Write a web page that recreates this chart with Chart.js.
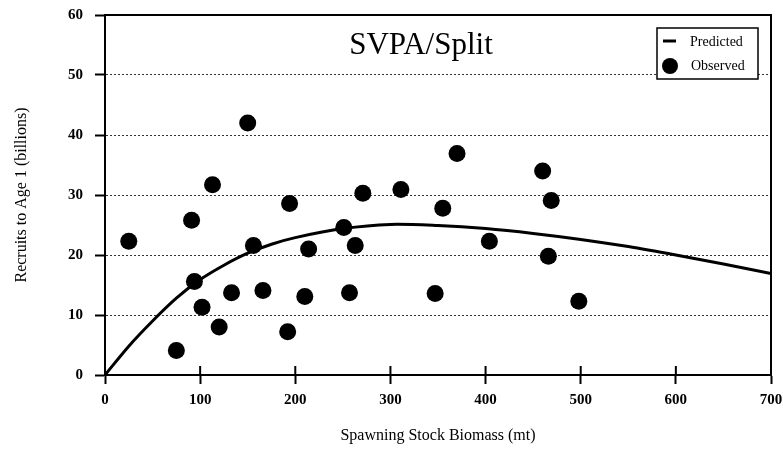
<!DOCTYPE html>
<html>
<head>
<meta charset="utf-8">
<script src="https://cdn.jsdelivr.net/npm/chart.js@4/dist/chart.umd.min.js"></script>
<style>
html, body { margin: 0; padding: 0; background: #fff; }
</style>
</head>
<body>
<canvas id="chart" width="783" height="450"></canvas>
<script>
// observed stock / recruit pairs
var biomass = [25, 75, 91, 94, 102, 113, 120, 133, 150, 156, 166, 192, 194, 210, 214, 251, 257, 263, 271, 311, 347, 355, 370, 404, 460, 466, 469, 498];
var recruits = [22.3, 4.1, 25.8, 15.6, 11.3, 31.7, 8.0, 13.7, 42.0, 21.6, 14.1, 7.2, 28.6, 13.1, 21.0, 24.6, 13.7, 21.6, 30.3, 30.9, 13.6, 27.8, 36.9, 22.3, 34.0, 19.8, 29.1, 12.3];

// predicted curve
var curveX = [0, 25, 50, 75, 100, 125, 150, 175, 200, 250, 300, 350, 400, 450, 500, 550, 600, 650, 700];
var curveY = [0, 4.8, 9.0, 12.8, 15.9, 18.3, 20.3, 21.8, 22.9, 24.4, 25.1, 24.9, 24.4, 23.6, 22.6, 21.4, 20.0, 18.5, 16.9];

var xTicks = [0, 100, 200, 300, 400, 500, 600, 700];
var yTicks = [0, 10, 20, 30, 40, 50, 60];

var chartTitle = "SVPA/Split";
var serif = "'Liberation Serif', 'Times New Roman', serif";

var predicted = curveX.map(function (x, i) { return { x: x, y: curveY[i] }; });
var observed = biomass.map(function (x, i) { return { x: x, y: recruits[i] }; });

var decor = {
  id: "decor",
  afterDraw: function (chart) {
    var ctx = chart.ctx;
    var a = chart.chartArea;
    var xs = chart.scales.x;
    ctx.save();
    ctx.strokeStyle = "#000";
    // top and right frame
    ctx.lineWidth = 2;
    ctx.beginPath();
    ctx.moveTo(a.left, a.top);
    ctx.lineTo(a.right, a.top);
    ctx.lineTo(a.right, a.bottom);
    ctx.stroke();
    // upper half of x ticks
    xTicks.forEach(function (v) {
      var px = xs.getPixelForValue(v);
      ctx.beginPath();
      ctx.moveTo(px, a.bottom);
      ctx.lineTo(px, a.bottom - 9);
      ctx.stroke();
    });
    // title inside plot
    ctx.fillStyle = "#000";
    ctx.font = "31px " + serif;
    ctx.textAlign = "center";
    ctx.textBaseline = "middle";
    ctx.fillText(chartTitle, 421, 46);
    // legend box
    ctx.fillStyle = "#fff";
    ctx.fillRect(657, 28, 101, 51);
    ctx.lineWidth = 1.5;
    ctx.strokeRect(657, 28, 101, 51);
    ctx.lineWidth = 3;
    ctx.beginPath();
    ctx.moveTo(663, 41);
    ctx.lineTo(676, 41);
    ctx.stroke();
    ctx.fillStyle = "#000";
    ctx.beginPath();
    ctx.arc(670, 66, 8, 0, Math.PI * 2);
    ctx.fill();
    ctx.font = "14px " + serif;
    ctx.textAlign = "left";
    ctx.fillText(chart.data.datasets[0].label, 690, 42);
    ctx.fillText(chart.data.datasets[1].label, 691, 66);
    ctx.restore();
  }
};

var chart = new Chart(document.getElementById("chart").getContext("2d"), {
  type: "scatter",
  data: {
    datasets: [
      {
        label: "Predicted",
        data: predicted,
        showLine: true,
        borderColor: "#000",
        borderWidth: 3,
        pointRadius: 0,
        tension: 0.3,
      },
      {
        label: "Observed",
        data: observed,
        pointRadius: 8.5,
        backgroundColor: "#000",
        borderWidth: 0,
      },
    ],
  },
  options: {
    responsive: false,
    animation: false,
    layout: { padding: { top: 15, right: 12, left: 0, bottom: 0 } },
    plugins: {
      legend: { display: false },
      tooltip: { enabled: false },
    },
    scales: {
      x: {
        type: "linear",
        min: 0,
        max: 700,
        afterBuildTicks: function (s) { s.ticks = xTicks.map(function (v) { return { value: v }; }); },
        afterFit: function (s) { s.height = 75; s.paddingLeft = 0; s.paddingRight = 0; },
        ticks: { color: "#000", font: { family: serif, size: 15, weight: "bold" }, padding: 7, maxRotation: 0 },
        grid: { drawOnChartArea: false, drawTicks: true, tickLength: 9, tickWidth: 2, tickColor: "#000" },
        border: { color: "#000", width: 2 },
        title: {
          display: true,
          text: "Spawning Stock Biomass (mt)",
          color: "#000",
          font: { family: serif, size: 16 },
          padding: { top: 0, bottom: 5 },
        },
      },
      y: {
        type: "linear",
        min: 0,
        max: 60,
        afterBuildTicks: function (s) { s.ticks = yTicks.map(function (v) { return { value: v }; }); },
        afterFit: function (s) { s.width = 105; s.paddingTop = 0; s.paddingBottom = 0; },
        ticks: { color: "#000", font: { family: serif, size: 15, weight: "bold" }, padding: 12 },
        grid: {
          color: function (c) { return c.tick && (c.tick.value === 0 || c.tick.value === 60) ? "rgba(0,0,0,0)" : "#333"; },
          lineWidth: 1,
          drawTicks: true,
          tickLength: 10,
          tickWidth: 2,
          tickColor: "#000",
        },
        border: { color: "#000", width: 2, dash: [2, 2] },
        title: {
          display: true,
          text: "Recruits to Age 1 (billions)",
          color: "#000",
          font: { family: serif, size: 16 },
          padding: { top: 12, bottom: 0 },
        },
      },
    },
  },
  plugins: [decor],
});
</script>
</body>
</html>
